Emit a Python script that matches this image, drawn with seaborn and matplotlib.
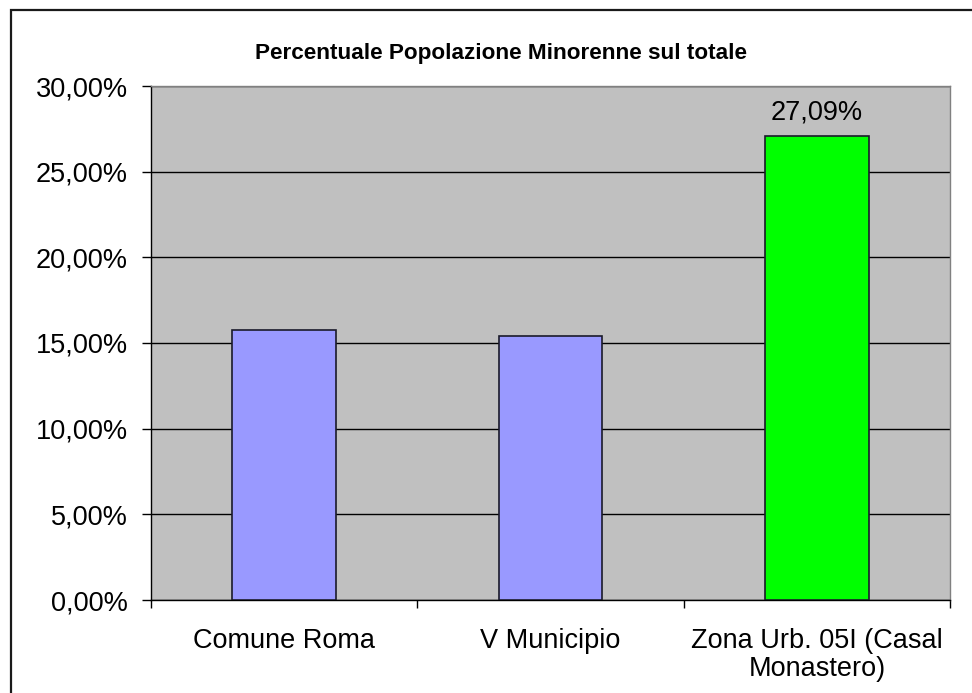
import seaborn as sns
import matplotlib.pyplot as plt
import matplotlib.patches as patches
from matplotlib.ticker import FuncFormatter, FixedLocator

categories = ['Comune Roma', 'V Municipio', 'Zona Urb. 05I (Casal\nMonastero)']
values = [15.76, 15.43, 27.09]
colors = ['#9999FF', '#9999FF', '#00FF00']
yticks = [0, 5, 10, 15, 20, 25, 30]

sns.set_style('white')
plt.rcParams['font.family'] = ['Liberation Sans', 'DejaVu Sans']
plt.rcParams['text.color'] = 'black'
plt.rcParams['xtick.color'] = 'black'
plt.rcParams['ytick.color'] = 'black'

fig = plt.figure(figsize=(9.72, 6.93), dpi=100)
ax = fig.add_axes([151/972, 1-600/693, (950-151)/972, (600-86)/693])
ax.set_facecolor('#C0C0C0')

sns.barplot(x=categories, y=values, hue=categories, palette=colors, legend=False,
            width=0.39, edgecolor='#1a1a2a', linewidth=1.2, saturation=1, ax=ax, zorder=3)

ax.set_ylim(0, 30)
ax.set_xlim(-0.5, 2.5)
ax.yaxis.set_major_locator(FixedLocator(yticks))
ax.yaxis.set_major_formatter(FuncFormatter(lambda v, p: ('%.2f%%' % v).replace('.', ',')))
ax.grid(axis='y', color='black', linewidth=1, zorder=1)
ax.set_axisbelow(True)

ax.tick_params(axis='y', which='major', direction='out', length=6.5, width=1,
               labelsize=19.5, pad=10, left=True)
ax.tick_params(axis='x', which='major', length=0, labelsize=19.5, pad=20)
ax.xaxis.set_minor_locator(FixedLocator([-0.5, 0.5, 1.5, 2.5]))
ax.tick_params(axis='x', which='minor', direction='out', length=5.8, width=1,
               bottom=True)
for lbl in ax.get_xticklabels():
    lbl.set_linespacing(1.12)

for s in ['left', 'bottom']:
    ax.spines[s].set_color('black')
    ax.spines[s].set_linewidth(1)
for s in ['top', 'right']:
    ax.spines[s].set_color('#808080')
    ax.spines[s].set_linewidth(1)

ax.text(2, values[2] + 0.6, ('%.2f%%' % values[2]).replace('.', ','),
        ha='center', va='bottom', fontsize=19.5, zorder=4)

fig.text(0.5154, 1-53/693, 'Percentuale Popolazione Minorenne sul totale',
         ha='center', va='center', fontsize=16.2, fontweight='bold')

fig.patches.append(patches.Rectangle((11/972, -0.1), 1.2, 1-10/693+0.1,
                                     transform=fig.transFigure, fill=False,
                                     edgecolor='#1a1a1a', linewidth=1.6))

plt.savefig('out.png', dpi=100)
plt.close()
